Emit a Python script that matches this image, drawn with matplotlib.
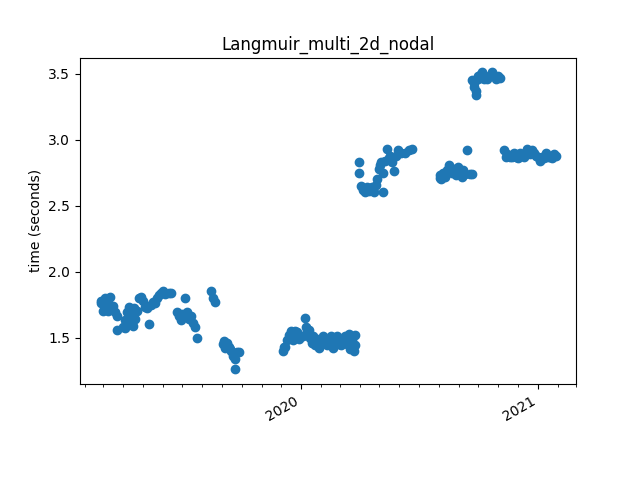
import matplotlib
matplotlib.use('Agg')
import matplotlib.pyplot as plt
import matplotlib.dates as mdates
import pandas as pd

# benchmark run dates and timings
dates = [
    # spring 2019
    '2019-02-25', '2019-02-28', '2019-03-03', '2019-03-06', '2019-03-09', '2019-03-12',
    '2019-03-09', '2019-03-16', '2019-03-19', '2019-03-22', '2019-03-22', '2019-02-26',
    '2019-03-04', '2019-03-14',
    '2019-03-31', '2019-04-03', '2019-04-06', '2019-04-09', '2019-04-13', '2019-04-16',
    '2019-04-19', '2019-04-22', '2019-04-25', '2019-04-28', '2019-05-01', '2019-05-04',
    '2019-05-10', '2019-05-14', '2019-05-17', '2019-05-23', '2019-05-26', '2019-05-29',
    '2019-06-01', '2019-06-04', '2019-06-10', '2019-06-14', '2019-04-04', '2019-04-11',
    '2019-04-18', '2019-04-08', '2019-05-07', '2019-05-20',
    # summer 2019
    '2019-06-23', '2019-06-26', '2019-06-29', '2019-07-02', '2019-07-05', '2019-07-08',
    '2019-07-11', '2019-07-15', '2019-07-18', '2019-07-21', '2019-07-24', '2019-07-01',
    '2019-08-15', '2019-08-18', '2019-08-21',
    # autumn 2019
    '2019-09-02', '2019-09-05', '2019-09-08', '2019-09-11', '2019-09-15', '2019-09-18',
    '2019-09-21', '2019-09-21', '2019-09-24', '2019-09-27', '2019-09-04', '2019-09-13',
    # winter 2019-2020
    '2019-12-04', '2019-12-07', '2019-12-10', '2019-12-13', '2019-12-17', '2019-12-20',
    '2019-12-23', '2019-12-26', '2019-12-29', '2019-12-05', '2019-12-15',
    '2020-01-04', '2020-01-07', '2020-01-10', '2020-01-13', '2020-01-17', '2020-01-20',
    '2020-01-23', '2020-01-26', '2020-01-29', '2020-02-01', '2020-02-04', '2020-02-07',
    '2020-02-10', '2020-02-13', '2020-02-16', '2020-02-19', '2020-02-22', '2020-02-25',
    '2020-02-29', '2020-03-03', '2020-03-06', '2020-03-09', '2020-03-12', '2020-03-15',
    '2020-03-19', '2020-03-22', '2020-03-25', '2020-03-25', '2020-01-08', '2020-01-15',
    '2020-01-31', '2020-02-18', '2020-03-01', '2020-03-17',
    # spring 2020
    '2020-03-31', '2020-03-31', '2020-04-03', '2020-04-06', '2020-04-09', '2020-04-12',
    '2020-04-15', '2020-04-19', '2020-04-22', '2020-04-25', '2020-04-28', '2020-05-01',
    '2020-05-04', '2020-05-07', '2020-05-07', '2020-05-10', '2020-05-13', '2020-05-16',
    '2020-05-20', '2020-05-23', '2020-05-26', '2020-05-29', '2020-06-04', '2020-06-10',
    '2020-06-16', '2020-06-20', '2020-04-05', '2020-04-17', '2020-05-02', '2020-05-18',
    # summer 2020
    '2020-08-02', '2020-08-05', '2020-08-08', '2020-08-11', '2020-08-14', '2020-08-17',
    '2020-08-21', '2020-08-24', '2020-08-27', '2020-08-30', '2020-09-02', '2020-09-05',
    '2020-09-08', '2020-09-11', '2020-09-14', '2020-09-18', '2020-09-21', '2020-08-03',
    '2020-08-19',
    # autumn 2020 (slow)
    '2020-09-21', '2020-09-24', '2020-09-27', '2020-09-27', '2020-09-30', '2020-10-03',
    '2020-10-06', '2020-10-09', '2020-10-12', '2020-10-15', '2020-10-19', '2020-10-22',
    '2020-10-25', '2020-10-28', '2020-10-31', '2020-11-03', '2020-09-25', '2020-10-01',
    # winter 2020-2021
    '2020-11-09', '2020-11-12', '2020-11-15', '2020-11-19', '2020-11-22', '2020-11-25',
    '2020-11-28', '2020-12-01', '2020-12-04', '2020-12-07', '2020-12-10', '2020-12-13',
    '2020-12-16', '2020-12-20', '2020-12-23', '2020-12-26', '2020-12-29', '2021-01-01',
    '2021-01-04', '2021-01-07', '2021-01-10', '2021-01-13', '2021-01-17', '2021-01-20',
    '2021-01-23', '2021-01-26', '2021-01-29',
]
times = [
    1.78, 1.70, 1.80, 1.77, 1.79, 1.81,
    1.70, 1.74, 1.69, 1.66, 1.56, 1.76,
    1.72, 1.73,
    1.58, 1.63, 1.69, 1.73, 1.67, 1.59,
    1.64, 1.70, 1.80, 1.81, 1.78, 1.73,
    1.60, 1.75, 1.77, 1.80, 1.82, 1.84,
    1.85, 1.83, 1.84, 1.84, 1.57, 1.68,
    1.72, 1.61, 1.72, 1.76,
    1.69, 1.66, 1.63, 1.66, 1.80, 1.69,
    1.64, 1.66, 1.61, 1.58, 1.50, 1.68,
    1.85, 1.80, 1.77,
    1.45, 1.42, 1.46, 1.43, 1.40, 1.36,
    1.34, 1.26, 1.39, 1.39, 1.47, 1.41,
    1.40, 1.43, 1.48, 1.52, 1.55, 1.48,
    1.55, 1.54, 1.49, 1.43, 1.50,
    1.51, 1.65, 1.55, 1.56, 1.46, 1.51,
    1.44, 1.49, 1.42, 1.46, 1.51, 1.47,
    1.44, 1.48, 1.51, 1.42, 1.46, 1.51,
    1.45, 1.44, 1.49, 1.51, 1.45, 1.53,
    1.48, 1.40, 1.52, 1.44, 1.58, 1.50,
    1.47, 1.49, 1.45, 1.41,
    2.83, 2.75, 2.65, 2.63, 2.60, 2.64,
    2.61, 2.64, 2.60, 2.66, 2.70, 2.78,
    2.83, 2.75, 2.60, 2.84, 2.93, 2.86,
    2.83, 2.76, 2.88, 2.92, 2.90, 2.90,
    2.92, 2.93, 2.62, 2.63, 2.81, 2.88,
    2.73, 2.70, 2.75, 2.72, 2.77, 2.81,
    2.75, 2.78, 2.73, 2.79, 2.75, 2.72,
    2.77, 2.74, 2.92, 2.74, 2.74, 2.71,
    2.76,
    3.45, 3.40, 3.37, 3.34, 3.48, 3.49,
    3.51, 3.46, 3.48, 3.46, 3.48, 3.51,
    3.48, 3.46, 3.48, 3.47, 3.43, 3.46,
    2.92, 2.87, 2.89, 2.87, 2.87, 2.90,
    2.87, 2.86, 2.90, 2.89, 2.87, 2.90,
    2.93, 2.89, 2.92, 2.90, 2.88, 2.87,
    2.84, 2.87, 2.86, 2.90, 2.87, 2.87,
    2.86, 2.89, 2.88,
]

dates = pd.to_datetime(dates)

fig, ax = plt.subplots(figsize=(6.4, 4.8))
ax.scatter(dates, times)
ax.set_title('Langmuir_multi_2d_nodal')
ax.set_ylabel('time (seconds)')
ax.set_xlim(pd.Timestamp('2019-01-24'), pd.Timestamp('2021-03-01'))
ax.xaxis.set_major_locator(mdates.YearLocator())
ax.xaxis.set_major_formatter(mdates.DateFormatter('%Y'))
ax.xaxis.set_minor_locator(mdates.MonthLocator())
fig.autofmt_xdate()

plt.savefig('out.png')
